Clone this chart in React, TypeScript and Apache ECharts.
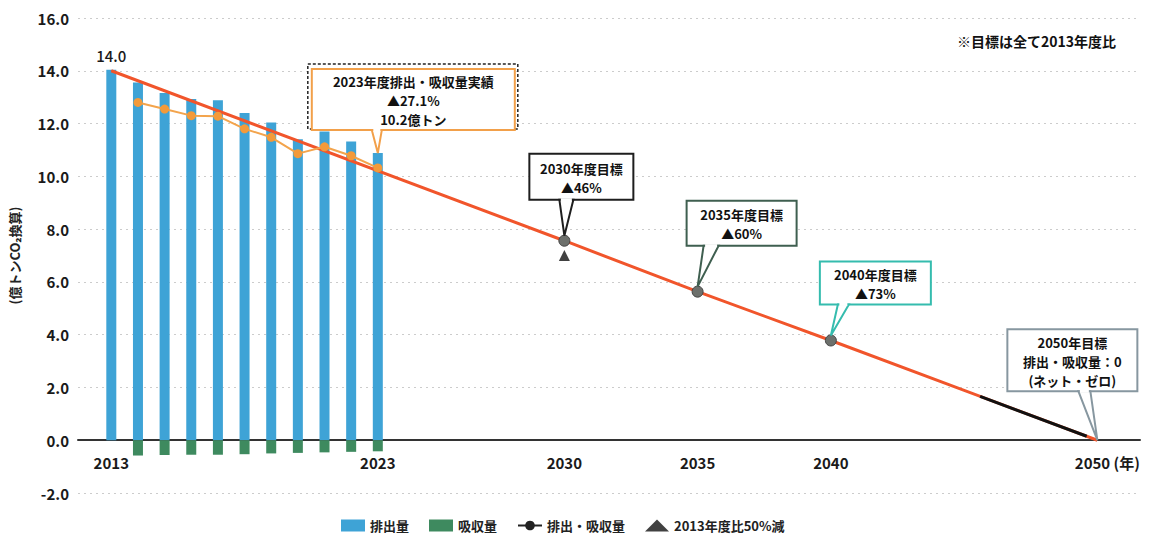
import React, { useEffect, useRef } from "react";
import * as echarts from "echarts";

// ---- data ----
const years = [2013, 2014, 2015, 2016, 2017, 2018, 2019, 2020, 2021, 2022, 2023];
const emissions = [14.04, 13.56, 13.16, 12.93, 12.88, 12.4, 12.04, 11.41, 11.7, 11.32, 10.88];
const removals = [0, -0.58, -0.56, -0.55, -0.55, -0.53, -0.5, -0.48, -0.46, -0.44, -0.42];
const netYears = [2014, 2015, 2016, 2017, 2018, 2019, 2020, 2021, 2022, 2023];
const netValues = [12.8, 12.55, 12.3, 12.28, 11.8, 11.48, 10.86, 11.12, 10.78, 10.32];
const targetYears = [2013, 2030, 2035, 2040, 2050];
const targetValues = [14.0, 7.56, 5.63, 3.78, 0];
const halfYears = [2030];
const halfValues = [7.0];
const segYears = [2045.6, 2049.6];
const segValues = [1.66, 0.15];
const xLabelYears = [2013, 2023, 2030, 2035, 2040, 2050];
const yMin = -2;
const yMax = 16;
const yStep = 2;

const FONT = "'Noto Sans CJK JP', 'Noto Sans', sans-serif";

const callouts = [
  { x: years[10], y: emissions[10], lines: ["2023年度排出・吸収量実績", "▲27.1%", "10.2億トン"], border: "#f2a04a", dx: -66, dy: -84, w: 203, h: 61, b0: -6, b1: 4, tipGap: 0, shadow: true },
  { x: targetYears[1], y: targetValues[1], lines: ["2030年度目標", "▲46%"], border: "#1e1e1e", dx: -35, dy: -87, w: 104, h: 46, b0: -5, b1: 9, tipGap: 5, shadow: false },
  { x: targetYears[2], y: targetValues[2], lines: ["2035年度目標", "▲60%"], border: "#3f5f50", dx: -11, dy: -91, w: 110, h: 45, b0: 6, b1: 21, tipGap: 5, shadow: false },
  { x: targetYears[3], y: targetValues[3], lines: ["2040年度目標", "▲73%"], border: "#35bcae", dx: -11, dy: -79, w: 111, h: 43, b0: 7, b1: 18, tipGap: 5, shadow: false },
  { x: targetYears[4], y: targetValues[4], lines: ["2050年目標", "排出・吸収量：0", "(ネット・ゼロ)"], border: "#8797a0", dx: -90, dy: -111, w: 130, h: 62, b0: -19, b1: -7, tipGap: 0, shadow: false },
];

export default function App() {
  const ref = useRef<HTMLDivElement>(null);
  useEffect(() => {
    document.body.style.margin = "0";
    const chart = echarts.init(ref.current!, null, { renderer: "svg" });
    const option: any = {
      animation: false,
      backgroundColor: "#ffffff",
      textStyle: { fontFamily: FONT },
      grid: { left: 77, right: 12, top: 18, bottom: 42, containLabel: false },
      legend: {
        left: 336,
        top: 514,
        itemWidth: 24,
        itemHeight: 12,
        itemGap: 20,
        textStyle: { fontSize: 13, fontWeight: "bold", color: "#222", fontFamily: FONT },
        data: [
          { name: "排出量", icon: "rect" },
          { name: "吸収量", icon: "rect" },
          { name: "排出・吸収量", itemStyle: { color: "#222" }, lineStyle: { color: "#222", width: 2 } },
          { name: "2013年度比50%減" },
        ],
      },
      xAxis: {
        type: "value",
        min: 2011.75,
        max: 2051.6,
        axisLine: { show: true, onZero: true, lineStyle: { color: "#333", width: 2 } },
        axisTick: { show: false },
        splitLine: { show: false },
        axisLabel: {
          customValues: xLabelYears,
          margin: -38,
          fontSize: 15,
          fontWeight: "bold",
          color: "#1a1a1a",
          fontFamily: FONT,
          formatter: (v: number) => (v === 2050 ? "{p|}{a|2050 (年)}" : String(v)),
          rich: {
            p: { width: 20 },
            a: { fontSize: 15, fontWeight: "bold", color: "#1a1a1a", fontFamily: FONT },
          },
        },
      },
      yAxis: {
        type: "value",
        min: yMin,
        max: yMax,
        interval: yStep,
        name: "(億トンCO₂換算)",
        nameLocation: "middle",
        nameRotate: 90,
        nameGap: 57,
        nameTextStyle: { fontSize: 13, fontWeight: "bold", color: "#222", fontFamily: FONT },
        axisLine: { show: false },
        axisTick: { show: false },
        axisLabel: {
          fontSize: 15,
          fontWeight: "bold",
          color: "#1a1a1a",
          margin: 9,
          fontFamily: FONT,
          formatter: (v: number) => v.toFixed(1),
        },
        splitLine: { show: true, lineStyle: { color: "#cccccc", type: [2, 4], width: 1 } },
      },
      series: [
        {
          name: "排出量",
          type: "bar",
          stack: "ghg",
          barWidth: 10,
          itemStyle: { color: "#3ea3d6" },
          data: years.map((y, i) => [y, emissions[i]]),
          z: 2,
        },
        {
          name: "吸収量",
          type: "bar",
          stack: "ghg",
          barWidth: 10,
          itemStyle: { color: "#3e8a5f" },
          data: years.map((y, i) => [y, removals[i]]),
          z: 2,
        },
        {
          name: "目標経路",
          type: "line",
          z: 4,
          lineStyle: { color: "#f1552b", width: 3 },
          itemStyle: { color: "#6d706c", borderColor: "#444", borderWidth: 1 },
          symbol: "circle",
          symbolSize: 11,
          data: targetYears.map((y, i) => {
            const item: any = { value: [y, targetValues[i]] };
            if (i === 0) {
              item.symbolSize = 1;
              item.itemStyle = { color: "#f1552b", borderWidth: 0 };
              item.label = {
                show: true,
                position: "top",
                distance: 7,
                formatter: "14.0",
                fontSize: 15,
                fontWeight: 500,
                color: "#1a1a1a",
                fontFamily: FONT,
              };
            }
            if (i === targetYears.length - 1) item.symbol = "none";
            return item;
          }),
        },
        {
          name: "排出・吸収量",
          type: "line",
          z: 5,
          lineStyle: { color: "#f3a44c", width: 2 },
          itemStyle: { color: "#f39a3a" },
          symbol: "circle",
          symbolSize: 9,
          data: netYears.map((y, i) => [y, netValues[i]]),
        },
        {
          name: "ネットゼロ経路",
          type: "line",
          z: 6,
          symbol: "none",
          lineStyle: { color: "#111", width: 3 },
          data: segYears.map((y, i) => [y, segValues[i]]),
        },
        {
          name: "2013年度比50%減",
          type: "scatter",
          symbol: "triangle",
          symbolSize: 11,
          itemStyle: { color: "#111" },
          z: 5,
          data: halfYears.map((y, i) => [y, halfValues[i]]),
        },
      ],
    };
    chart.setOption(option);

    const LH = 19;
    const graphics: any[] = [];
    callouts.forEach((c) => {
      const p = chart.convertToPixel({ xAxisIndex: 0, yAxisIndex: 0 }, [c.x, c.y]) as number[];
      const px = p[0];
      const py = p[1];
      const left = px + c.dx;
      const top = py + c.dy;
      if (c.shadow) {
        graphics.push({
          type: "rect",
          z: 100,
          shape: { x: left - 4, y: top - 5, width: c.w + 7, height: c.h + 4 },
          style: { fill: "none", stroke: "#222", lineWidth: 1.5, lineDash: [3, 2] },
        });
      }
      graphics.push({
        type: "rect",
        z: 101,
        shape: { x: left, y: top, width: c.w, height: c.h },
        style: { fill: "#fff", stroke: c.border, lineWidth: 2 },
      });
      graphics.push({
        type: "polygon",
        z: 102,
        shape: { points: [[px + c.b0, top + c.h], [px, py - c.tipGap], [px + c.b1, top + c.h]] },
        style: { fill: "#fff", stroke: c.border, lineWidth: 2 },
      });
      graphics.push({
        type: "line",
        z: 103,
        shape: { x1: px + c.b0 + 1.5, y1: top + c.h, x2: px + c.b1 - 1.5, y2: top + c.h },
        style: { stroke: "#fff", lineWidth: 3 },
      });
      const n = c.lines.length;
      const cy0 = top + c.h / 2 + 1 - ((n - 1) * LH) / 2;
      c.lines.forEach((t, k) => {
        graphics.push({
          type: "text",
          z: 104,
          style: {
            text: t,
            x: left + c.w / 2,
            y: cy0 + k * LH,
            align: "center",
            verticalAlign: "middle",
            fontSize: 13,
            fontWeight: "bold",
            fontFamily: FONT,
            fill: "#111",
          },
        });
      });
    });
    graphics.push({
      type: "text",
      z: 104,
      style: {
        text: "※目標は全て2013年度比",
        x: 1116,
        y: 41,
        align: "right",
        verticalAlign: "middle",
        fontSize: 14,
        fontWeight: "bold",
        fontFamily: FONT,
        fill: "#111",
      },
    });
    chart.setOption({ graphic: graphics });

    return () => chart.dispose();
  }, []);
  return <div ref={ref} style={{ width: 1152, height: 535 }} />;
}
